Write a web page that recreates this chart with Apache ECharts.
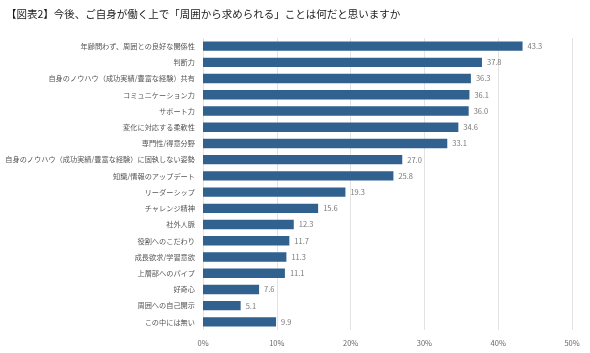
<!DOCTYPE html>
<html>
<head>
<meta charset="utf-8">
<script src="https://cdn.jsdelivr.net/npm/echarts@6/dist/echarts.min.js"></script>
<style>
  html, body { margin: 0; padding: 0; background: #fff; }
  #main { width: 590px; height: 353px; }
</style>
</head>
<body>
<div id="main"></div>
<script>
var titleText = '【図表2】今後、ご自身が働く上で「周囲から求められる」ことは何だと思いますか';
var categories = [
  '年齢問わず、周囲との良好な関係性',
  '判断力',
  '自身のノウハウ（成功実績/豊富な経験）共有',
  'コミュニケーション力',
  'サポート力',
  '変化に対応する柔軟性',
  '専門性/得意分野',
  '自身のノウハウ（成功実績/豊富な経験）に固執しない姿勢',
  '知識/情報のアップデート',
  'リーダーシップ',
  'チャレンジ精神',
  '社外人脈',
  '役割へのこだわり',
  '成長欲求/学習意欲',
  '上層部へのパイプ',
  '好奇心',
  '周囲への自己開示',
  'この中には無い'
];
var values = [43.3, 37.8, 36.3, 36.1, 36.0, 34.6, 33.1, 27.0, 25.8, 19.3, 15.6, 12.3, 11.7, 11.3, 11.1, 7.6, 5.1, 9.9];

var myChart = echarts.init(document.getElementById('main'));
var option = {
    backgroundColor: '#fff',
    textStyle: { fontFamily: '"Noto Sans CJK JP", "Noto Sans", sans-serif' },
    title: {
        text: titleText,
        left: 1,
        top: 4,
        textStyle: {
            fontSize: 10.5,
            fontWeight: 'normal',
            color: '#1a1a1a'
        }
    },
    grid: {
        left: 203,
        right: 18,
        top: 38,
        bottom: 23,
        containLabel: false,
        outerBoundsMode: 'none'
    },
    xAxis: {
        type: 'value',
        min: 0,
        max: 50,
        interval: 10,
        axisLine: { show: false },
        axisTick: { show: false },
        splitLine: { lineStyle: { color: '#e3e3e3', width: 1 } },
        axisLabel: {
            formatter: '{value}%',
            fontSize: 7.5,
            color: '#666',
            margin: 9
        }
    },
    yAxis: {
        type: 'category',
        inverse: true,
        data: categories,
        axisLine: { show: false },
        axisTick: { show: false },
        axisLabel: {
            fontSize: 7.2,
            color: '#555',
            margin: 8
        }
    },
    series: [
        {
            type: 'bar',
            data: values,
            barWidth: '58%',
            itemStyle: { color: '#31618f' },
            label: {
                show: true,
                position: 'right',
                distance: 5,
                fontSize: 7.5,
                color: '#777',
                formatter: function (p) { return p.value.toFixed(1); }
            }
        }
    ]
};
myChart.setOption(option);
</script>
</body>
</html>
